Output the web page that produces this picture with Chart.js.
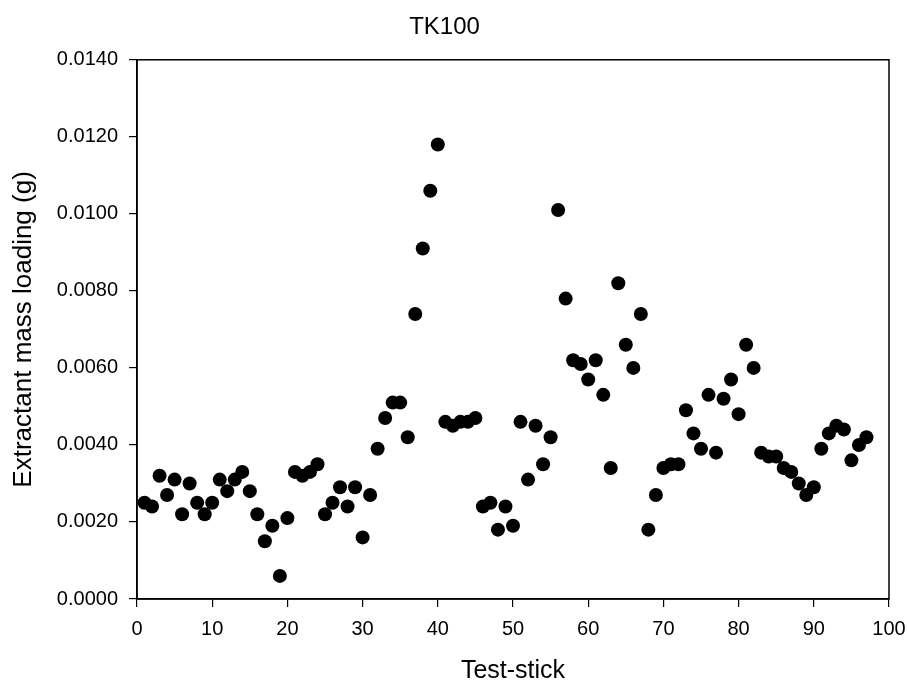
<!DOCTYPE html>
<html>
<head>
<meta charset="utf-8">
<script src="https://cdn.jsdelivr.net/npm/chart.js@4/dist/chart.umd.min.js"></script>
<style>
  html, body { margin: 0; padding: 0; background: #fff; }
  #wrap { width: 908px; height: 684px; }
</style>
</head>
<body>
<div id="wrap"><canvas id="chart" width="908" height="684"></canvas></div>
<script>
// test-stick number
const sticks = [];
for (let i = 1; i <= 97; i++) sticks.push(i);

// extractant mass loading (g)
const loading = [
  0.0025, 0.0024, 0.0032, 0.0027, 0.0031, 0.0022, 0.0030, 0.0025, 0.0022, 0.0025,
  0.0031, 0.0028, 0.0031, 0.0033, 0.0028, 0.0022, 0.0015, 0.0019, 0.0006, 0.0021,
  0.0033, 0.0032, 0.0033, 0.0035, 0.0022, 0.0025, 0.0029, 0.0024, 0.0029, 0.0016,
  0.0027, 0.0039, 0.0047, 0.0051, 0.0051, 0.0042, 0.0074, 0.0091, 0.0106, 0.0118,
  0.0046, 0.0045, 0.0046, 0.0046, 0.0047, 0.0024, 0.0025, 0.0018, 0.0024, 0.0019,
  0.0046, 0.0031, 0.0045, 0.0035, 0.0042, 0.0101, 0.0078, 0.0062, 0.0061, 0.0057,
  0.0062, 0.0053, 0.0034, 0.0082, 0.0066, 0.0060, 0.0074, 0.0018, 0.0027, 0.0034,
  0.0035, 0.0035, 0.0049, 0.0043, 0.0039, 0.0053, 0.0038, 0.0052, 0.0057, 0.0048,
  0.0066, 0.0060, 0.0038, 0.0037, 0.0037, 0.0034, 0.0033, 0.0030, 0.0027, 0.0029,
  0.0039, 0.0043, 0.0045, 0.0044, 0.0036, 0.0040, 0.0042
];

const xTicks = [0, 10, 20, 30, 40, 50, 60, 70, 80, 90, 100];
const yTicks = [0, 0.002, 0.004, 0.006, 0.008, 0.010, 0.012, 0.014];

const FONT = 'Liberation Sans, Arial, sans-serif';

// draw top and right frame lines
const frame = {
  id: 'frame',
  afterDraw(chart) {
    const a = chart.chartArea, c = chart.ctx;
    c.save();
    c.strokeStyle = '#000';
    c.lineWidth = 1.5;
    c.strokeRect(a.left, a.top, a.right - a.left, a.bottom - a.top);
    c.restore();
  }
};

new Chart(document.getElementById('chart').getContext('2d'), {
  type: 'scatter',
  data: {
    datasets: [{
      data: sticks.map((s, i) => ({ x: s, y: loading[i] })),
      backgroundColor: '#000',
      borderColor: '#000',
      borderWidth: 0,
      pointRadius: 7,
      pointHoverRadius: 7
    }]
  },
  options: {
    responsive: false,
    animation: false,
    layout: { padding: { right: 19 } },
    plugins: {
      legend: { display: false },
      tooltip: { enabled: false },
      title: {
        display: true,
        text: 'TK100',
        color: '#000',
        font: { family: FONT, size: 24, weight: 'normal', lineHeight: 1.2 },
        padding: { top: 13, bottom: 18 }
      }
    },
    scales: {
      x: {
        type: 'linear',
        min: 0, max: 100,
        afterBuildTicks: s => { s.ticks = xTicks.map(v => ({ value: v })); },
        afterFit: s => { s.height = 85; s.paddingLeft = 0; s.paddingRight = 0; },
        grid: { drawOnChartArea: false, drawTicks: true, tickLength: 8, color: '#000', lineWidth: 1.2 },
        border: { display: true, color: '#000', width: 1.5 },
        ticks: { color: '#000', padding: 10, maxRotation: 0, font: { family: FONT, size: 20 } },
        title: {
          display: true, text: 'Test-stick', color: '#000',
          font: { family: FONT, size: 25, lineHeight: 1 }, padding: { top: 0, bottom: 0 }
        }
      },
      y: {
        type: 'linear',
        min: 0, max: 0.014,
        afterBuildTicks: s => { s.ticks = yTicks.map(v => ({ value: v })); },
        afterFit: s => { s.width = 137; s.paddingTop = 0; s.paddingBottom = 0; },
        grid: { drawOnChartArea: false, drawTicks: true, tickLength: 8, color: '#000', lineWidth: 1.2 },
        border: { display: true, color: '#000', width: 1.5 },
        ticks: {
          color: '#000', padding: 11,
          font: { family: FONT, size: 20 },
          callback: v => v.toFixed(4)
        },
        title: {
          display: true, text: 'Extractant mass loading (g)', color: '#000',
          font: { family: FONT, size: 26, lineHeight: 1.2 }, padding: { top: 8, bottom: 0 }
        }
      }
    }
  },
  plugins: [frame]
});
</script>
</body>
</html>
